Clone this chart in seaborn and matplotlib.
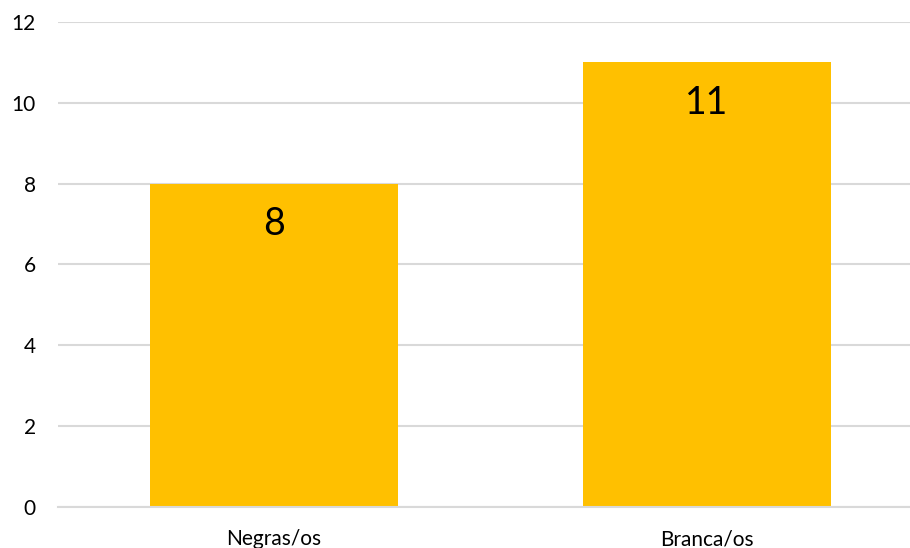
import matplotlib
matplotlib.use("Agg")
import matplotlib.pyplot as plt
import seaborn as sns
import pandas as pd

categories = ["Negras/os", "Branca/os"]
values = [8, 11]
yticks = [0, 2, 4, 6, 8, 10, 12]

sns.set_theme(style="white")
plt.rcParams['font.family'] = ['Lato', 'DejaVu Sans']

df = pd.DataFrame({"cat": categories, "val": values})

fig = plt.figure(figsize=(9.1, 5.48), dpi=100)
ax = fig.add_axes([0.0637, 0.0748, 0.9363, 0.8851])
ax.set_axisbelow(True)
sns.barplot(data=df, x="cat", y="val", color="#FFC000", saturation=1, width=0.573,
            linewidth=0, edgecolor="none", ax=ax)
ax.set_xlim(-0.499, 1.469)
ax.set_ylim(0, 12)
ax.set_yticks(yticks)
ax.yaxis.grid(True, color="#d9d9d9", linewidth=1.5)
ax.xaxis.grid(False)
for s in ["top", "right", "left"]:
    ax.spines[s].set_visible(False)
ax.spines["bottom"].set_color("#d9d9d9")
ax.spines["bottom"].set_linewidth(1.5)
ax.set_xlabel("")
ax.set_ylabel("")
ax.tick_params(axis="y", length=0, pad=16, labelsize=15, labelcolor="black")
ax.tick_params(axis="x", length=0, pad=16, labelsize=15, labelcolor="black")

for i, v in enumerate(values):
    ax.annotate(str(v), xy=(i, v), xytext=(0, -29), textcoords="offset points",
                ha="center", va="center", fontsize=27, color="black")

fig.savefig("out.png", dpi=100)
